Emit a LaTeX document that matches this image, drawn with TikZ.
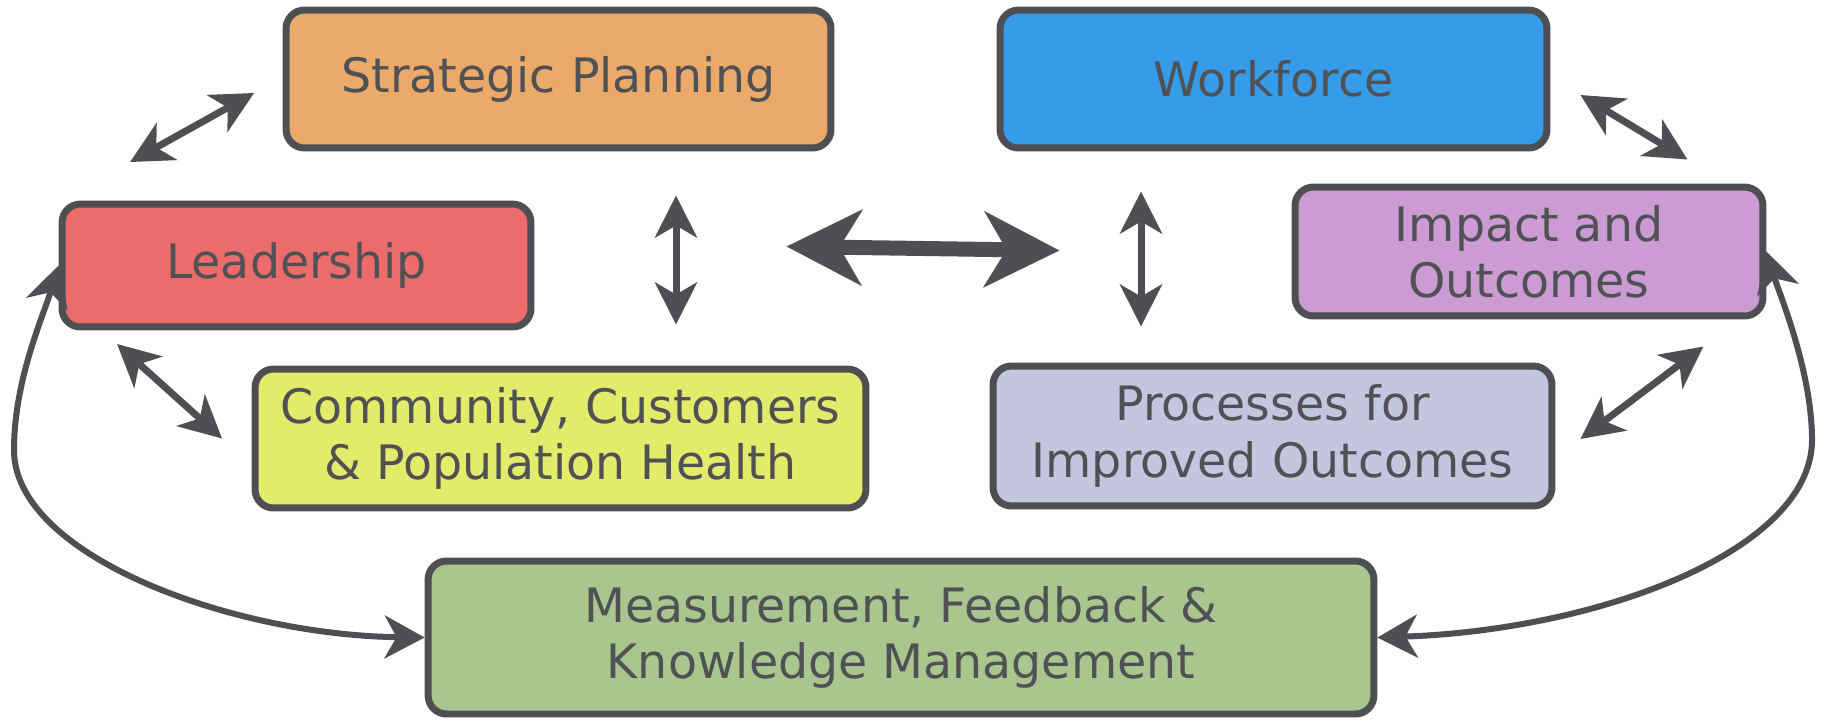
\documentclass[tikz,border=0pt]{standalone}
\usepackage{fontspec}
\setmainfont{DejaVu Sans}
\usepackage{tikz}
\usetikzlibrary{arrows.meta}

\definecolor{ink}{HTML}{4D4F52}
\definecolor{txt}{HTML}{4F5154}
\definecolor{cplan}{HTML}{EBAA6A}
\definecolor{cwork}{HTML}{369CEA}
\definecolor{clead}{HTML}{EC6B6B}
\definecolor{cimpact}{HTML}{CC9BD3}
\definecolor{ccomm}{HTML}{E2EB6A}
\definecolor{cproc}{HTML}{C5C5E0}
\definecolor{cmeas}{HTML}{A9C68E}

\begin{document}
\begin{tikzpicture}[x = 0.02cm, y = -0.02cm,
                        box/.style = {draw = ink, line width = 0.14cm, rounded corners = 0.37cm, text = txt,
                                      align = center, inner sep = 0pt, font = \fontsize{27}{32}\selectfont},
                        dbl/.style = {draw = ink, line width = 0.14cm, >={Stealth[length = 0.84cm, width = 0.84cm, inset = 0.24cm]}, <->},
                        big/.style = {draw = ink, line width = 0.3cm, >={Stealth[length = 1.5cm, width = 1.5cm, inset = 0.44cm]}, <->},
                        loop/.style = {draw = ink, line width = 0.12cm, >={Stealth[length = 0.8cm, width = 0.86cm, inset = 0.24cm]}, <->}]
      \useasboundingbox (0, 0) rectangle (1825, 721);
      \node [box, fill = cplan, minimum width = 10.9cm, minimum height = 2.76cm] (b1) at (558.5, 79){Strategic Planning};
      \node [box, fill = cwork, minimum width = 10.94cm, minimum height = 2.76cm] (b2) at (1273.5, 79){Workforce};
      \node [box, fill = clead, minimum width = 9.38cm, minimum height = 2.46cm] (b3) at (296.5, 265.5){Leadership};
      \node [box, fill = cimpact, minimum width = 9.36cm, minimum height = 2.58cm] (b4) at (1529, 251.5){Impact and\\Outcomes};
      \node [box, fill = ccomm, minimum width = 12.22cm, minimum height = 2.78cm] (b5) at (560.5, 438.5){Community, Customers\\\& Population Health};
      \node [box, fill = cproc, minimum width = 11.18cm, minimum height = 2.8cm] (b6) at (1272.5, 436){Processes for\\Improved Outcomes};
      \node [box, fill = cmeas, minimum width = 18.92cm, minimum height = 3.06cm] (b7) at (901, 637.5){Measurement, Feedback \&\\Knowledge Management};
      \draw [dbl] ([shift = {(71.5, -38.5)}]b3.north west) -- ([shift = {(-28.5, 14)}]b1.west);
      \draw [dbl] ([shift = {(58.5, 13.5)}]b3.south west) -- ([shift = {(-29.5, 0)}]b5.west);
      \draw [dbl] ([shift = {(117.5, 44)}]b1.south) -- ([shift = {(115.5, -41)}]b5.north);
      \draw [big] ([shift = {(-48, 95)}]b1.south east) -- ([shift = {(63, 99)}]b2.south west);
      \draw [dbl] ([shift = {(-132.5, 40)}]b2.south) -- ([shift = {(-131.5, -36)}]b6.north);
      \draw [dbl] ([shift = {(30, 16)}]b2.east) -- ([shift = {(-79, -24)}]b4.north east);
      \draw [dbl] ([shift = {(-63, 27)}]b4.south east) -- ([shift = {(25, 3)}]b6.east);
      \draw [loop] (b3.west) .. controls (43.5, 315.5) and (14, 380) .. (14, 450)
                             .. controls (14, 555) and (230, 635) .. (b7.west);
      \draw [loop] (b4.east) .. controls (1778, 290) and (1812, 370) .. (1812, 440)
                             .. controls (1812, 550) and (1600, 630) .. (b7.east);
    \end{tikzpicture}
\end{document}
